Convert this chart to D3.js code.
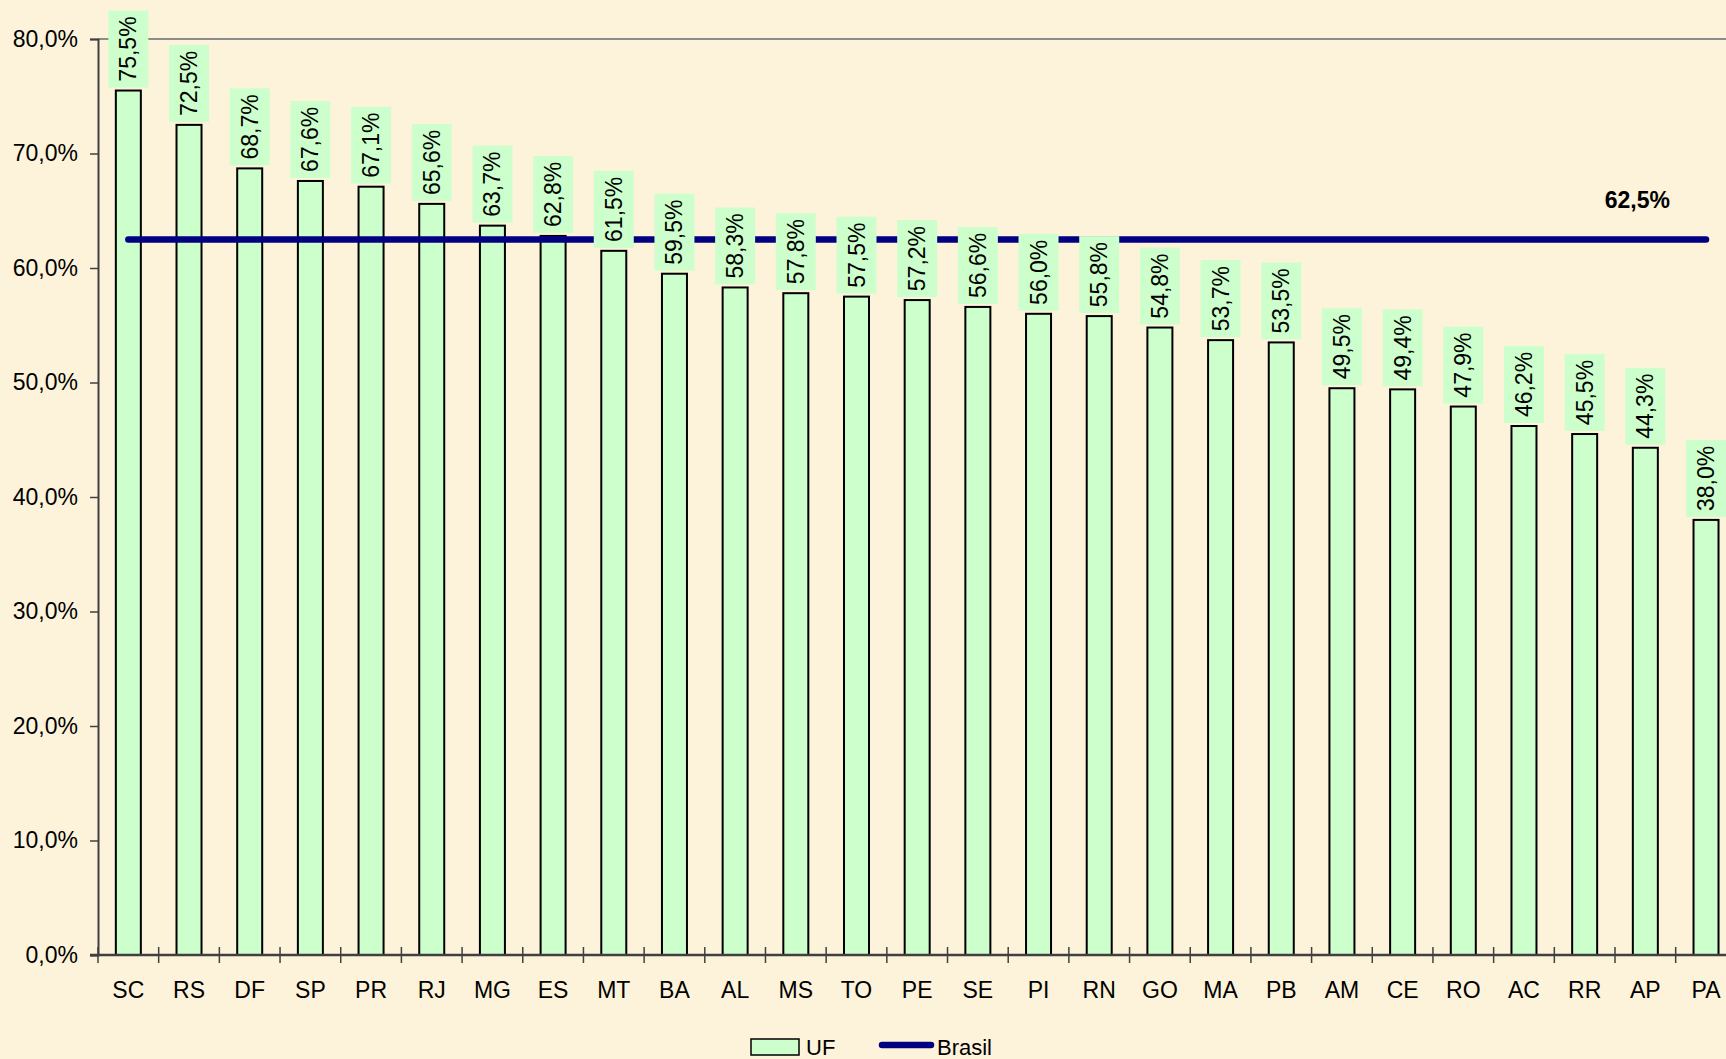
<!DOCTYPE html>
<html>
<head>
<meta charset="utf-8">
<script src="https://cdn.jsdelivr.net/npm/d3@7"></script>
<style>
  body { margin: 0; background: #fdf3da; }
  svg { display: block; font-family: Arial, "Liberation Sans", sans-serif; }
</style>
</head>
<body>
<svg id="chart" width="1726" height="1059"></svg>
<script>
// data
var ufs = ['SC','RS','DF','SP','PR','RJ','MG','ES','MT','BA','AL','MS','TO','PE','SE','PI','RN','GO','MA','PB','AM','CE','RO','AC','RR','AP','PA']
var ufValues = [75.5,72.5,68.7,67.6,67.1,65.6,63.7,62.8,61.5,59.5,58.3,57.8,57.5,57.2,56.6,56.0,55.8,54.8,53.7,53.5,49.5,49.4,47.9,46.2,45.5,44.3,38.0]
var brasilValue = 62.5
var yTicks = [0,10,20,30,40,50,60,70,80]
var legendLabels = ['UF', 'Brasil']

var fmt = function(v) { return v.toFixed(1).replace('.', ',') + '%' }

var svg = d3.select('#chart')

var x = d3.scaleBand()
    .domain(ufs)
    .range([98, 98 + 27 * 60.68])
    .paddingInner(0)
    .paddingOuter(0)

var y = d3.scaleLinear()
    .domain([0, 80])
    .range([955, 39])

var bw = x.bandwidth()
var barW = 25

// top gridline
svg.append('line')
    .attr('x1', 98).attr('x2', 1726)
    .attr('y1', y(80)).attr('y2', y(80))
    .attr('stroke', '#8c8c8c').attr('stroke-width', 2)

// y axis
var yAxis = d3.axisLeft(y)
    .tickValues(yTicks)
    .tickSize(8)
    .tickFormat(function(d) { return fmt(d) })

var gy = svg.append('g')
    .attr('transform', 'translate(98,0)')
    .call(yAxis)
gy.select('.domain').attr('stroke', '#404040').attr('stroke-width', 2)
gy.selectAll('.tick line').attr('stroke', '#404040').attr('stroke-width', 1.5)
gy.selectAll('.tick text')
    .attr('x', -20)
    .attr('font-size', '23px')
    .attr('font-family', 'Arial, "Liberation Sans", sans-serif')
    .attr('fill', '#000')

// bars
svg.selectAll('rect.bar')
    .data(ufValues)
    .enter()
    .append('rect')
    .attr('class', 'bar')
    .attr('x', function(d, i) { return x(ufs[i]) + bw / 2 - barW / 2 })
    .attr('y', function(d) { return y(d) })
    .attr('width', barW)
    .attr('height', function(d) { return y(0) - y(d) })
    .attr('fill', '#ccffcc')
    .attr('stroke', '#000')
    .attr('stroke-width', 2)

// x axis
var xAxis = d3.axisBottom(x).tickSize(0).tickFormat(function(d) { return d })
var gx = svg.append('g')
    .attr('transform', 'translate(0,' + y(0) + ')')
    .call(xAxis)
gx.select('.domain').remove()
svg.append('line')
    .attr('x1', 90).attr('x2', 1726)
    .attr('y1', y(0)).attr('y2', y(0))
    .attr('stroke', '#404040').attr('stroke-width', 2.5)
gx.selectAll('.tick text')
    .attr('y', 43)
    .attr('dy', 0)
    .attr('font-size', '23px')
    .attr('font-family', 'Arial, "Liberation Sans", sans-serif')
    .attr('fill', '#000')

// category separators
svg.selectAll('line.sep')
    .data(ufs)
    .enter()
    .append('line')
    .attr('class', 'sep')
    .attr('x1', function(d) { return x(d) })
    .attr('x2', function(d) { return x(d) })
    .attr('y1', y(0) - 8)
    .attr('y2', y(0) + 8)
    .attr('stroke', '#404040')
    .attr('stroke-width', 1.5)

// Brasil line
var line = d3.line()
    .x(function(d) { return x(d) + bw / 2 })
    .y(function() { return y(brasilValue) })

svg.append('path')
    .datum(ufs)
    .attr('d', line)
    .attr('fill', 'none')
    .attr('stroke', '#000080')
    .attr('stroke-width', 6.5)
    .attr('stroke-linecap', 'round')

svg.append('text')
    .attr('x', x('AP') + bw / 2 - 8)
    .attr('y', y(brasilValue) - 31)
    .attr('text-anchor', 'middle')
    .attr('font-size', '23px')
    .attr('font-weight', 'bold')
    .text(fmt(brasilValue))

// data labels
var labels = svg.selectAll('g.lbl')
    .data(ufValues)
    .enter()
    .append('g')
    .attr('class', 'lbl')
    .attr('transform', function(d, i) {
      return 'translate(' + (x(ufs[i]) + bw / 2) + ',' + (y(d) - 3) + ')'
    })

labels.append('rect')
    .attr('x', -20)
    .attr('y', -77)
    .attr('width', 40)
    .attr('height', 77)
    .attr('fill', '#ccffcc')

labels.append('text')
    .attr('transform', 'translate(8,-38.5) rotate(-90)')
    .attr('text-anchor', 'middle')
    .attr('font-size', '23px')
    .text(function(d) { return fmt(d) })

// legend (nudged up a little so its text stays inside the page)
var leg = svg.append('g')
leg.append('rect')
    .attr('x', 751).attr('y', 1039)
    .attr('width', 48).attr('height', 16)
    .attr('fill', '#ccffcc').attr('stroke', '#000').attr('stroke-width', 1.5)
leg.append('text')
    .attr('x', 806).attr('y', 1055)
    .attr('font-size', '22px')
    .text(legendLabels[0])
leg.append('line')
    .attr('x1', 882).attr('x2', 931)
    .attr('y1', 1045).attr('y2', 1045)
    .attr('stroke', '#000080').attr('stroke-width', 6.5)
    .attr('stroke-linecap', 'round')
leg.append('text')
    .attr('x', 937).attr('y', 1055)
    .attr('font-size', '22px')
    .text(legendLabels[1])
</script>
</body>
</html>
